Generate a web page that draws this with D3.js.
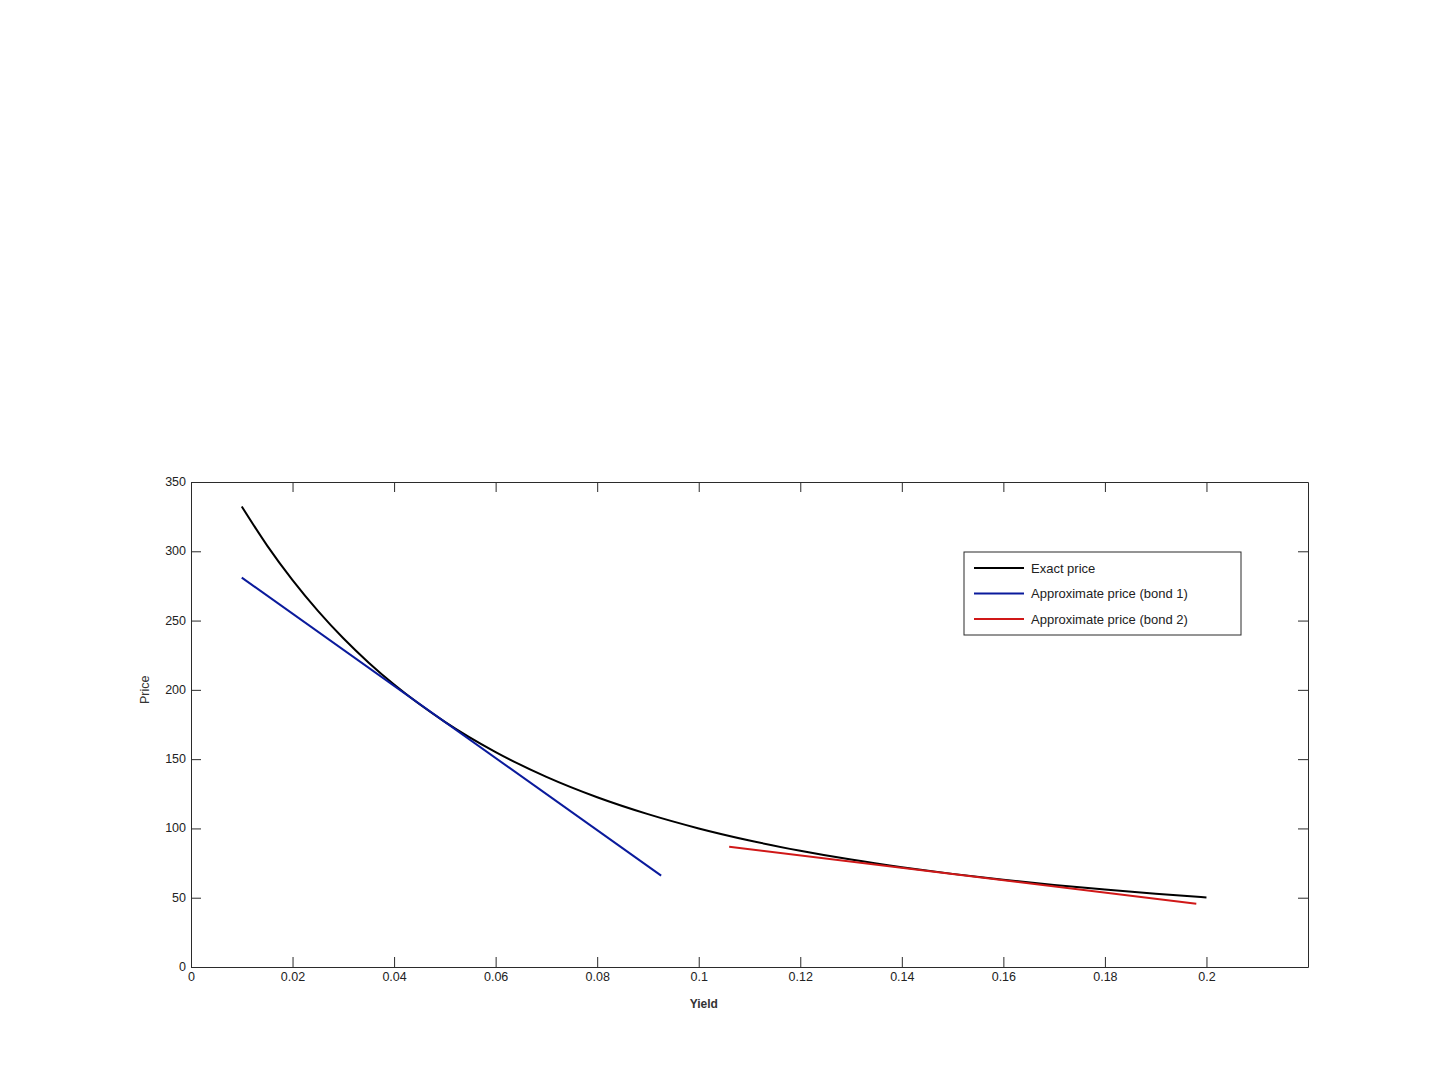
<!DOCTYPE html>
<html>
<head>
<meta charset="utf-8">
<script src="https://cdn.jsdelivr.net/npm/d3@7"></script>
<style>
  body { margin: 0; background: #fff; }
  text { font-family: Arial, "Liberation Sans", sans-serif; }
</style>
</head>
<body>
<div id="chart-area"></div>
<script>
// valores
var yieldExact = [0.01, 0.015, 0.02, 0.025, 0.03, 0.035, 0.04, 0.05, 0.06, 0.07, 0.08, 0.09, 0.10,
                  0.11, 0.12, 0.13, 0.14, 0.15, 0.16, 0.17, 0.18, 0.19, 0.20];
var priceExact = [332.3, 304.1, 279.2, 257.0, 237.2, 219.6, 203.8, 176.9, 155.1, 137.2, 122.5, 110.3, 100.0,
                  91.3, 83.9, 77.5, 72.0, 67.2, 62.9, 59.2, 55.9, 52.9, 50.2];
var yieldBond1 = [0.01, 0.0926];
var priceBond1 = [281.0, 65.9];
var yieldBond2 = [0.106, 0.198];
var priceBond2 = [86.8, 45.7];

var xTicks = [0, 0.02, 0.04, 0.06, 0.08, 0.1, 0.12, 0.14, 0.16, 0.18, 0.2];
var yTicks = [0, 50, 100, 150, 200, 250, 300, 350];
var legendNames = ["Exact price", "Approximate price (bond 1)", "Approximate price (bond 2)"];
var colores = ["#000000", "#0a1a9c", "#d01818"];

var margin = { left: 191, right: 133, top: 482, bottom: 113 };
var width = 1441 - margin.left - margin.right,
    height = 1080 - margin.top - margin.bottom;

var svg = d3.select("#chart-area")
    .append("svg")
        .attr("width", 1441)
        .attr("height", 1080);

var g = svg.append("g")
    .attr("transform", "translate(" + margin.left + ", " + margin.top + ")");

var x = d3.scaleLinear().domain([0, 0.22]).range([0, width]);
var y = d3.scaleLinear().domain([0, 350]).range([height, 0]);

// ejes estilo matlab, ticks hacia adentro
var axisColor = "#2b2b2b";
var axBottom = g.append("g")
    .attr("transform", "translate(0," + height + ")")
    .call(d3.axisBottom(x).tickValues(xTicks).tickSizeInner(-10).tickSizeOuter(0).tickPadding(6)
        .tickFormat(d => d3.format("")(+d.toFixed(2))));
var axLeft = g.append("g")
    .call(d3.axisLeft(y).tickValues(yTicks).tickSizeInner(-10).tickSizeOuter(0).tickPadding(5));
var axTop = g.append("g")
    .call(d3.axisTop(x).tickValues(xTicks).tickSizeInner(-10).tickSizeOuter(0).tickFormat(""));
var axRight = g.append("g")
    .attr("transform", "translate(" + width + ",0)")
    .call(d3.axisRight(y).tickValues(yTicks).tickSizeInner(-10).tickSizeOuter(0).tickFormat(""));

[axBottom, axLeft, axTop, axRight].forEach(a => {
    a.selectAll("path, line").attr("stroke", axisColor).attr("stroke-width", 1);
    a.selectAll("text").attr("fill", "#222").style("font-size", "12.5px");
});
axLeft.selectAll("text").attr("dy", "0.28em");
axBottom.selectAll("text").attr("dy", "0.65em");

// etiquetas
g.append("text")
    .attr("x", x(0.101))
    .attr("y", height + 41)
    .attr("text-anchor", "middle")
    .attr("fill", "#333")
    .style("font-size", "12px")
    .style("font-weight", "bold")
    .text("Yield");

g.append("text")
    .attr("transform", "translate(-42," + y(200) + ") rotate(-90)")
    .attr("text-anchor", "middle")
    .attr("fill", "#333")
    .style("font-size", "12.5px")
    .text("Price");

// lineas
var line = d3.line()
    .x(d => x(d[0]))
    .y(d => y(d[1]));

var series = [
    { xs: yieldExact, ys: priceExact, curve: d3.curveMonotoneX },
    { xs: yieldBond1, ys: priceBond1, curve: d3.curveLinear },
    { xs: yieldBond2, ys: priceBond2, curve: d3.curveLinear }
];

series.forEach((s, i) => {
    g.append("path")
        .datum(s.xs.map((v, j) => [v, s.ys[j]]))
        .attr("fill", "none")
        .attr("stroke", colores[i])
        .attr("stroke-width", 2)
        .attr("d", line.curve(s.curve));
});

// leyenda
var legend = svg.append("g")
    .attr("transform", "translate(964,552)");
legend.append("rect")
    .attr("width", 277)
    .attr("height", 83)
    .attr("fill", "#fff")
    .attr("stroke", axisColor)
    .attr("stroke-width", 1);

legendNames.forEach((name, i) => {
    var row = legend.append("g").attr("transform", "translate(0," + (16 + i * 25.5) + ")");
    row.append("line")
        .attr("x1", 10).attr("x2", 60)
        .attr("stroke", colores[i])
        .attr("stroke-width", 2);
    row.append("text")
        .attr("x", 67)
        .attr("dy", "0.35em")
        .attr("fill", "#222")
        .style("font-size", "13px")
        .text(name);
});
</script>
</body>
</html>
